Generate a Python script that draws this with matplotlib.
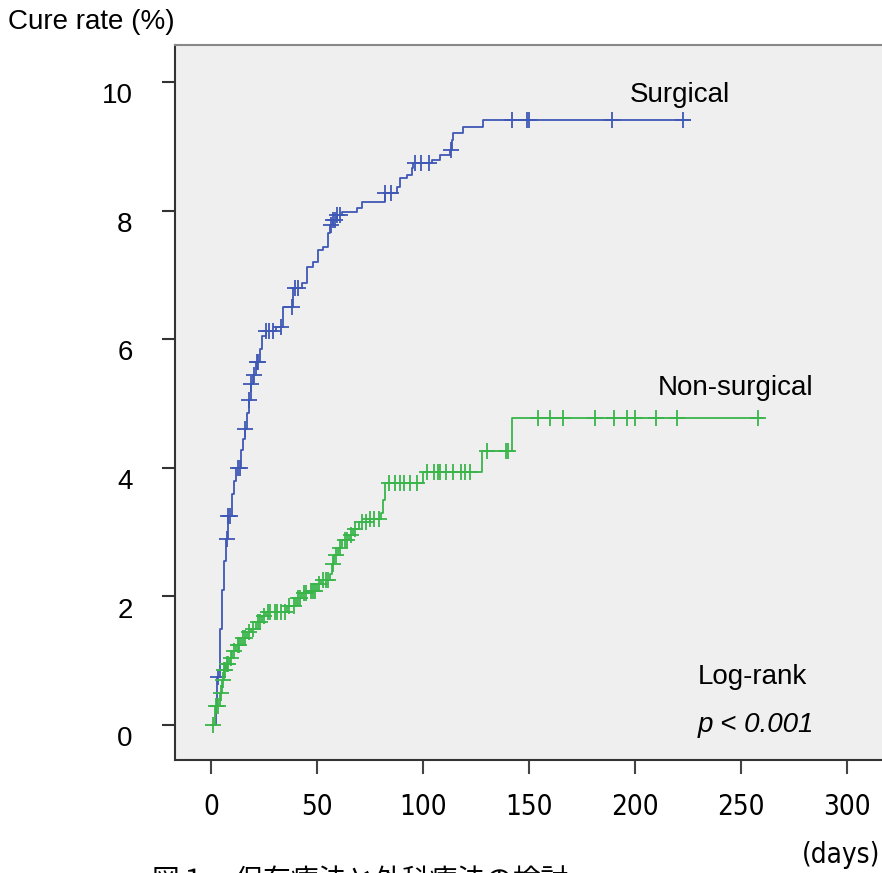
import numpy as np
import matplotlib
matplotlib.use("Agg")
import matplotlib.pyplot as plt
from matplotlib.transforms import ScaledTranslation

# Surgical group: step times (days) and cumulative cure rate (%)
surg_days = [0, 2.5, 3, 4, 5, 6, 7, 8, 10, 11, 12, 14, 15, 16, 17, 18, 19,
             20, 21, 23, 24, 26, 30.5, 34, 38.5, 43, 45.5, 48, 50.5, 53, 55,
             56, 57.5, 59.5, 62, 69, 71, 82, 87.5, 89, 92.5, 95, 95.5, 104,
             108, 112.5, 113.5, 114, 119, 128.3, 226]
surg_rate = [0, 0.3, 0.74, 1.5, 2.1, 2.55, 2.9, 3.25, 3.6, 3.8, 4.0, 4.28,
             4.45, 4.6, 4.85, 5.05, 5.3, 5.45, 5.65, 5.85, 6.05, 6.12, 6.19,
             6.5, 6.8, 6.87, 7.12, 7.2, 7.39, 7.43, 7.65, 7.78, 7.85, 7.93,
             7.98, 8.04, 8.13, 8.27, 8.37, 8.5, 8.55, 8.66, 8.74, 8.79, 8.86,
             8.94, 9.1, 9.2, 9.3, 9.41, 9.41]
surg_censored = [3.3, 7.5, 8.2, 9, 12.5, 13.5, 16, 18, 19, 20.5, 21.5, 22,
                 26, 27.5, 29, 33, 38, 39.5, 41, 56.5, 57.5, 58.5, 59.5, 61,
                 82, 85, 96, 99, 103, 113, 142, 149, 150, 189, 222.6]

# Non-surgical group
nons_days = [0, 2, 4, 5, 6, 7, 9, 10, 12, 14, 17, 19, 21, 24, 26, 36, 40,
             43, 46, 50, 52, 56, 57, 58, 60, 62, 65, 67, 70, 75, 80, 81, 82,
             100, 128, 142, 260]
nons_rate = [0, 0.3, 0.5, 0.7, 0.85, 0.95, 1.05, 1.15, 1.25, 1.35, 1.45,
             1.5, 1.6, 1.7, 1.76, 1.85, 1.97, 2.05, 2.08, 2.2, 2.25, 2.35,
             2.5, 2.64, 2.75, 2.88, 2.95, 3.05, 3.15, 3.2, 3.3, 3.5, 3.76,
             3.93, 4.26, 4.78, 4.78]
nons_censored = [1, 2.5, 3.5, 4.5, 5.5, 6, 6.5, 7.5, 8, 9.5, 11, 12.5, 13,
                 15, 16, 18, 20, 22, 23, 25, 27, 28, 30, 31, 33, 35, 37, 39,
                 41, 42, 44, 45, 47, 48, 49, 51, 53, 54, 55, 57.5, 59, 61,
                 63, 64, 66, 68, 71, 73, 75, 77, 79, 84, 87, 89, 91, 94, 97,
                 102, 105, 107, 108, 111, 114, 118, 120, 122, 130, 139, 140,
                 154, 160, 166, 181, 190, 196, 200, 210, 220, 258]

x_ticks = [0, 50, 100, 150, 200, 250, 300]
y_ticks = [0, 2, 4, 6, 8, 10]

BLUE = "#3f58b5"
GREEN = "#3ab54a"
NARROW = dict(family="DejaVu Sans", stretch="condensed")


def step_value(days, rate, t):
    """
    Value of a post-step function at time t.
    """
    idx = np.searchsorted(np.asarray(days), t, side="right") - 1
    return np.asarray(rate)[np.clip(idx, 0, len(rate) - 1)]


def draw_curve(ax, days, rate, censored, color):
    """
    Draw a Kaplan-Meier style step curve with censor crosses.
    """
    ax.plot(days, rate, drawstyle="steps-post", color=color, lw=1.3)
    cens = np.asarray(censored, dtype=float)
    ax.plot(cens, step_value(days, rate, cens), ls="none", marker="+",
            ms=11, mew=1.3, color=color)


def main() -> None:
    plt.rcParams["font.family"] = ["Liberation Sans", "DejaVu Sans"]
    fig = plt.figure(figsize=(8.82, 8.73), dpi=100)
    ax = fig.add_axes([0.1984, 0.1294, 0.8016, 0.8191])
    ax.set_facecolor("#efefef")

    draw_curve(ax, surg_days, surg_rate, surg_censored, BLUE)
    draw_curve(ax, nons_days, nons_rate, nons_censored, GREEN)

    ax.set_xlim(-17, 316.5)
    ax.set_ylim(-0.544, 10.575)
    ax.set_xticks(x_ticks)
    ax.set_yticks(y_ticks)
    ax.set_xticklabels([str(v) for v in x_ticks], fontsize=20, **NARROW)
    ax.set_yticklabels([str(v) for v in y_ticks], fontsize=20)
    ax.tick_params(axis="x", length=10, width=1.5, color="#444444", pad=14)
    ax.tick_params(axis="y", length=9.5, width=1.5, color="#333333", pad=21)
    offset = ScaledTranslation(0, -8 / 72, fig.dpi_scale_trans)
    for lbl in ax.get_yticklabels():
        lbl.set_transform(lbl.get_transform() + offset)

    ax.spines["right"].set_visible(False)
    ax.spines["left"].set_color("#333333")
    ax.spines["left"].set_linewidth(1.5)
    ax.spines["bottom"].set_color("#333333")
    ax.spines["bottom"].set_linewidth(1.5)
    ax.spines["top"].set_color("#888888")
    ax.spines["top"].set_linewidth(1.5)

    ax.text(197.6, 9.8, "Surgical", fontsize=20, va="center")
    ax.text(210.8, 5.24, "Non-surgical", fontsize=20, va="center")
    ax.text(229.7, 0.75, "Log-rank", fontsize=20, va="center")
    ax.text(229.7, 0.0, "p < 0.001", fontsize=20, va="center",
            style="italic")

    fig.text(0.009, 0.975, "Cure rate (%)", fontsize=20, va="center")
    fig.text(0.998, 0.021, "(days)", fontsize=20, ha="right", va="center",
             **NARROW)
    # caption is cut off at the bottom edge in the original figure
    fig.text(0.172, -0.010, "図１　保存療法と外科療法の検討", fontsize=20,
             va="center", family=["Noto Sans CJK JP", "DejaVu Sans"])

    fig.savefig("out.png", dpi=100)
    plt.close(fig)


if __name__ == "__main__":
    main()
